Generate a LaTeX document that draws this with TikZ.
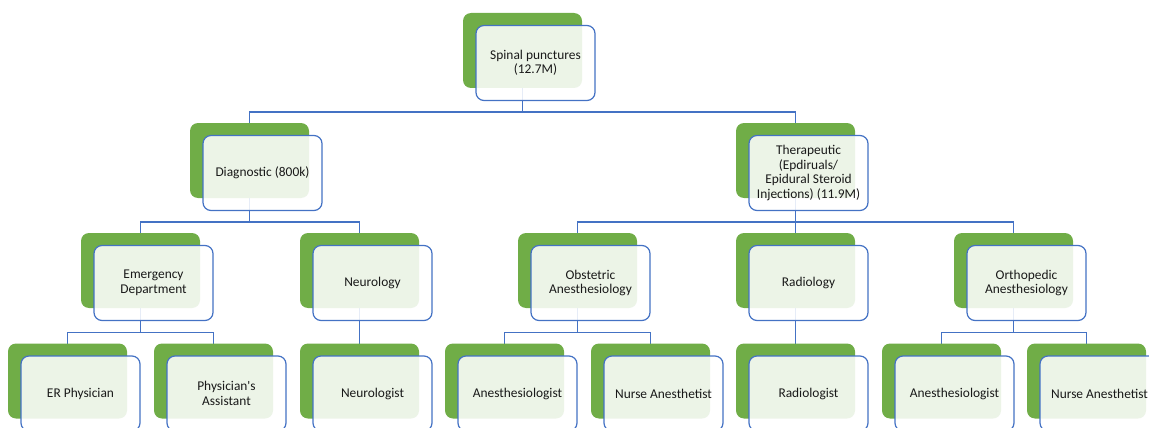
\documentclass[tikz,border=0pt]{standalone}
\usepackage{fontspec}
\setmainfont{Carlito}
\usetikzlibrary{backgrounds}
\definecolor{leafgreen}{HTML}{70AD47}
\definecolor{linkblue}{HTML}{4472C4}
% one card = green backing box plus a translucent bordered box carrying the text
\newcommand\orgcard[4]{%
  \node[back] (#1) at (#2,-#3-37.5) {};
  \node[front] (#1f) at ([shift={(13,-12.5)}]#1.center) {#4};}
\begin{document}
\begin{tikzpicture}[x=1pt,y=1pt,
  back/.style={fill=leafgreen, rounded corners=8pt, minimum width=119pt,
    minimum height=75pt, inner sep=0pt, outer sep=0pt},
  front/.style={draw=linkblue, line width=1.2pt, fill=white, fill opacity=0.87,
    text opacity=1, rounded corners=8pt, minimum width=119pt, minimum height=75pt,
    inner sep=0pt, align=center, text=black!90,
    font=\fontsize{13.4}{14.5}\selectfont},
  link/.style={draw=linkblue, line width=1.6pt}]
\useasboundingbox (0,0) rectangle (1149,-428);
\clip (0,0) rectangle (1149,-428);

% level 0
\orgcard{top}{522.5}{13}{Spinal punctures\\(12.7M)}
% level 1
\orgcard{dia}{249.5}{123}{Diagnostic (800k)}
\orgcard{the}{795.5}{123}{Therapeutic\\(Epdiruals/\\Epidural Steroid\\Injections) (11.9M)}
% level 2
\orgcard{emd}{140.5}{233}{Emergency\\Department}
\orgcard{neu}{359.5}{233}{Neurology}
\orgcard{obs}{577.5}{233}{Obstetric\\Anesthesiology}
\orgcard{rad}{795.5}{233}{Radiology}
\orgcard{ort}{1013.5}{233}{Orthopedic\\Anesthesiology}
% level 3
\orgcard{erp}{67.5}{343.5}{ER Physician}
\orgcard{pas}{213.5}{343.5}{Physician\textquotesingle s\\Assistant}
\orgcard{nlg}{359.5}{343.5}{Neurologist}
\orgcard{ana}{504.5}{343.5}{Anesthesiologist}
\orgcard{nua}{650.5}{343.5}{Nurse Anesthetist}
\orgcard{rdl}{795.5}{343.5}{Radiologist}
\orgcard{anb}{941.5}{343.5}{Anesthesiologist}
\orgcard{nub}{1086.5}{343.5}{Nurse Anesthetist}

% elbow connectors between the green boxes, kept underneath everything
\begin{scope}[on background layer]
\foreach \p/\c in {top/dia, top/the, dia/emd, dia/neu, the/obs, the/rad, the/ort,
    emd/erp, emd/pas, neu/nlg, obs/ana, obs/nua, rad/rdl, ort/anb, ort/nub}
  \draw[link] (\p.south) |- ([yshift=11pt]\c.north) -- (\c.north);
\end{scope}
\end{tikzpicture}
\end{document}
